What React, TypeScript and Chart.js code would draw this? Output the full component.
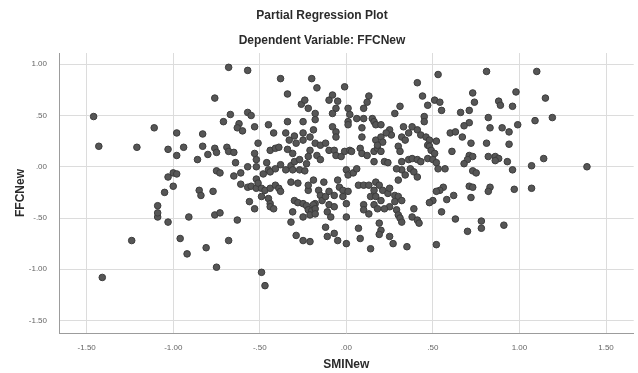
import React, { useEffect, useRef } from 'react';
import { Chart, registerables } from 'chart.js';

Chart.register(...registerables);

const chartTitle = 'Partial Regression Plot';
const chartSubtitle = 'Dependent Variable: FFCNew';
const xTitle = 'SMINew';
const yTitle = 'FFCNew';

const xTicks = [-1.5, -1.0, -0.5, 0.0, 0.5, 1.0, 1.5];
const yTicks = [-1.5, -1.0, -0.5, 0.0, 0.5, 1.0];

// SMINew (x) values of the observations
const smiNew = [
  -1.46, -1.43, -1.41, -1.24, -1.21, -1.11, -1.09, -1.09, -1.09, -1.05,
  -1.03, -1.03, -1.03, -1.00, -0.98, -1.00, -0.98, -0.98, -0.96, -0.94,
  -0.92, -0.91, -0.86, -0.85, -0.84, -0.83, -0.83, -0.81, -0.80, -0.77,
  -0.76, -0.76, -0.75, -0.76, -0.73, -0.75, -0.73, -0.75, -0.71, -0.69,
  -0.68, -0.65, -0.68, -0.68, -0.67, -0.64, -0.65, -0.61, -0.63, -0.62,
  -0.63, -0.60, -0.61, -0.57, -0.55, -0.57, -0.57, -0.55, -0.52, -0.56,
  -0.53, -0.53, -0.53, -0.52, -0.52, -0.57, -0.52, -0.34, -0.26, -0.24,
  -0.45, -0.34, -0.42, -0.35, -0.30, -0.33, -0.29, -0.25, -0.25, -0.51,
  -0.44, -0.41, -0.39, -0.34, -0.31, -0.46, -0.45, -0.48, -0.44, -0.41,
  -0.38, -0.35, -0.32, -0.30, -0.27, -0.23, -0.31, -0.27, -0.24, -0.51,
  -0.49, -0.47, -0.44, -0.41, -0.39, -0.38, -0.49, -0.45, -0.44, -0.44,
  -0.42, -0.31, -0.32, -0.29, -0.25, -0.49, -0.47, -0.32, -0.28, -0.30,
  -0.28, -0.25, -0.23, -0.22, -0.21, -0.25, -0.38, -0.22, -0.21, -0.25,
  -0.17, -0.20, -0.10, -0.08, -0.05, -0.06, -0.01, 0.13, 0.12, -0.18,
  -0.18, -0.08, 0.01, 0.02, 0.10, 0.06, 0.10, 0.15, 0.16, 0.17,
  0.20, 0.31, 0.28, 0.44, 0.47, 0.41, 0.45, 0.45, -0.19, -0.08,
  -0.06, -0.06, 0.01, 0.01, 0.09, 0.09, 0.17, 0.20, 0.21, 0.25,
  0.26, 0.32, 0.34, 0.36, 0.38, 0.41, 0.43, 0.46, 0.48, 0.47,
  0.30, 0.31, -0.18, -0.15, -0.12, -0.10, -0.21, -0.22, -0.17, -0.15,
  -0.07, -0.06, -0.03, -0.01, 0.02, 0.03, 0.08, 0.09, 0.12, 0.16,
  0.18, 0.20, 0.16, 0.22, 0.24, 0.32, 0.36, 0.38, 0.41, 0.43,
  0.37, 0.39, 0.41, 0.32, 0.34, 0.30, 0.29, 0.00, 0.01, 0.04,
  0.06, -0.19, -0.13, -0.22, -0.16, -0.15, -0.14, -0.12, -0.18, -0.05,
  -0.04, -0.02, 0.01, -0.02, 0.00, 0.07, 0.10, 0.13, 0.17, 0.19,
  0.21, 0.16, 0.14, 0.17, 0.20, 0.24, 0.25, 0.28, 0.30, 0.32,
  0.28, 0.25, 0.29, 0.10, 0.10, 0.13, 0.16, 0.18, 0.22, -0.19,
  -0.20, -0.18, -0.21, -0.18, -0.10, -0.11, -0.09, -0.07, 0.00, 0.30,
  0.31, 0.32, 0.38, 0.41, 0.42, -0.12, -0.11, -0.07, -0.05, 0.00,
  0.07, 0.08, 0.19, 0.20, 0.19, 0.25, 0.27, 0.35, 0.14, 0.39,
  -0.22, -0.10, -0.07, 0.33, 0.18, 0.23, 0.73, 0.74, 0.98, 0.88,
  0.89, 0.96, 1.15, 0.51, 0.54, 0.55, 0.53, 0.66, 0.71, 0.82,
  0.99, 1.09, 1.19, 0.81, 1.10, 0.71, 0.68, 0.83, 0.90, 0.94,
  0.60, 0.63, 0.67, 0.52, 0.72, 0.81, 0.94, 0.48, 0.49, 0.51,
  0.47, 0.50, 0.61, 0.71, 0.73, 0.70, 0.68, 0.82, 0.86, 0.88,
  0.86, 0.93, 1.14, 0.52, 0.53, 0.57, 0.73, 0.75, 0.96, 1.07,
  1.39, 0.71, 0.73, 0.83, 0.82, 0.97, 1.07, 0.56, 0.54, 0.52,
  0.50, 0.48, 0.58, 0.62, 0.72, 0.55, 0.63, 0.78, 0.78, 0.70,
  0.91, 0.52,
];

// FFCNew (y) values of the same observations
const ffcNew = [
  0.49, 0.20, -1.08, -0.72, 0.19, 0.38, -0.49, -0.45, -0.38, -0.25,
  -0.54, 0.17, -0.10, -0.06, -0.07, -0.19, 0.33, 0.11, -0.70, 0.19,
  -0.85, -0.49, 0.07, -0.23, -0.28, 0.32, 0.20, -0.79, 0.12, -0.24,
  0.67, 0.18, 0.14, -0.47, -0.45, -0.04, -0.06, -0.98, 0.44, 0.19,
  0.15, 0.14, -0.72, 0.97, 0.51, 0.04, -0.09, -0.06, -0.52, 0.42,
  0.38, 0.35, -0.17, 0.53, 0.50, 0.94, -0.20, -0.19, -0.21, -0.34,
  -0.41, 0.39, 0.13, 0.07, 0.00, 0.00, -0.12, 0.71, 0.61, 0.65,
  0.41, 0.44, 0.33, 0.33, 0.30, 0.26, 0.23, 0.33, 0.26, 0.23,
  0.16, 0.18, 0.19, 0.17, 0.13, 0.04, -0.03, -0.07, -0.05, -0.02,
  0.02, -0.03, 0.01, 0.05, 0.07, 0.03, -0.03, -0.03, -0.04, -0.16,
  -0.21, -0.23, -0.21, -0.18, -0.21, -0.24, -0.29, -0.31, -0.36, -0.39,
  -0.41, -0.44, -0.54, -0.67, -0.72, -1.03, -1.16, -0.15, -0.16, -0.33,
  -0.35, -0.36, -0.38, -0.42, -0.73, -0.49, 0.86, 0.57, 0.29, 0.44,
  0.77, 0.86, 0.65, 0.70, 0.64, 0.57, 0.78, 0.69, 0.63, 0.52,
  0.46, 0.52, 0.57, 0.51, 0.57, 0.47, 0.47, 0.47, 0.44, 0.41,
  0.41, 0.59, 0.52, 0.69, 0.60, 0.82, 0.49, 0.44, 0.36, 0.39,
  0.34, 0.29, 0.44, 0.41, 0.38, 0.29, 0.26, 0.29, 0.24, 0.36,
  0.31, 0.29, 0.26, 0.33, 0.39, 0.36, 0.31, 0.29, 0.26, 0.21,
  0.20, 0.15, 0.23, 0.21, 0.23, 0.16, 0.16, 0.10, 0.11, 0.07,
  0.16, 0.11, 0.10, 0.15, 0.16, 0.15, 0.18, 0.13, 0.11, 0.15,
  0.18, 0.15, 0.05, 0.05, 0.04, 0.05, 0.07, 0.08, 0.07, 0.05,
  -0.02, -0.05, -0.10, -0.03, -0.08, -0.13, -0.02, -0.03, -0.08, -0.06,
  -0.02, -0.13, -0.15, -0.23, -0.23, -0.28, -0.33, -0.29, -0.36, -0.13,
  -0.20, -0.23, -0.24, -0.29, -0.36, -0.18, -0.18, -0.18, -0.15, -0.18,
  -0.23, -0.23, -0.29, -0.29, -0.33, -0.26, -0.21, -0.28, -0.29, -0.33,
  -0.34, -0.39, -0.42, -0.37, -0.42, -0.46, -0.37, -0.41, -0.41, -0.37,
  -0.43, -0.41, -0.47, -0.46, -0.37, -0.44, -0.49, -0.39, -0.49, -0.47,
  -0.50, -0.54, -0.49, -0.52, -0.55, -0.59, -0.68, -0.65, -0.72, -0.75,
  -0.60, -0.70, -0.55, -0.62, -0.66, -0.68, -0.75, -0.78, -0.80, -0.41,
  -0.18, -0.24, -0.28, 0.39, 0.21, 0.33, 0.72, 0.63, 0.73, 0.64,
  0.60, 0.59, 0.67, 0.65, 0.63, 0.55, 0.90, 0.53, 0.55, 0.48,
  0.41, 0.45, 0.48, 0.93, 0.93, 0.43, 0.40, 0.38, 0.38, 0.34,
  0.33, 0.34, 0.29, 0.25, 0.23, 0.23, 0.22, 0.20, 0.16, 0.13,
  0.08, 0.07, 0.15, 0.11, 0.10, 0.07, 0.03, 0.10, 0.10, 0.08,
  0.06, 0.05, 0.08, 0.04, -0.02, -0.02, -0.04, -0.06, -0.03, 0.01,
  0.00, -0.19, -0.20, -0.20, -0.24, -0.22, -0.21, -0.20, -0.23, -0.24,
  -0.33, -0.35, -0.32, -0.28, -0.30, -0.44, -0.51, -0.53, -0.60, -0.63,
  -0.57, -0.76,
];

const FONT = '"Liberation Sans", Arial, sans-serif';

function fmt(v: number): string {
  const s = Math.abs(v).toFixed(2);
  const t = s.startsWith('0') ? s.slice(1) : s;
  return (v < 0 ? '-' : '') + t;
}

export default function App() {
  const ref = useRef<HTMLCanvasElement>(null);

  useEffect(() => {
    document.body.style.margin = '0';
    const canvas = ref.current;
    if (!canvas) return;

    const titles = {
      id: 'titles',
      afterDraw(chart: any) {
        const ctx = chart.ctx as CanvasRenderingContext2D;
        const area = chart.chartArea;
        const xScale = chart.scales.x;
        ctx.save();
        ctx.fillStyle = '#2b2b2b';
        ctx.textAlign = 'center';
        ctx.textBaseline = 'middle';
        ctx.font = `bold 12px ${FONT}`;
        ctx.fillText(chartTitle, 322, 16);
        ctx.fillText(chartSubtitle, 322, 41);
        ctx.fillText(xTitle, xScale.getPixelForValue(0), 365);
        ctx.translate(21, (area.top + area.bottom) / 2);
        ctx.rotate(-Math.PI / 2);
        ctx.fillText(yTitle, 0, 0);
        ctx.restore();
      },
    };

    const chart = new Chart(canvas, {
      type: 'scatter',
      data: {
        datasets: [
          {
            data: smiNew.map((x, i) => ({ x, y: ffcNew[i] })),
            pointRadius: 3.3,
            pointHoverRadius: 3.3,
            backgroundColor: '#565656',
            borderColor: '#3c3c3c',
            borderWidth: 1,
          },
        ],
      },
      options: {
        responsive: false,
        animation: false,
        devicePixelRatio: 1,
        layout: { padding: { top: 53, right: 2, left: 0, bottom: 0 } },
        plugins: {
          legend: { display: false },
          tooltip: { enabled: false },
          title: { display: false },
        },
        scales: {
          x: {
            type: 'linear',
            min: -1.66,
            max: 1.66,
            afterBuildTicks: (s: any) => {
              s.ticks = xTicks.map((v) => ({ value: v }));
            },
            afterFit: (s: any) => {
              s.height = 40;
            },
            grid: { color: '#dcdcdc', drawTicks: false },
            border: { color: '#9c9c9c' },
            ticks: {
              padding: 10,
              color: '#666',
              font: { size: 8, family: FONT },
              maxRotation: 0,
              autoSkip: false,
              callback: (v: any) => fmt(Number(v)),
            },
          },
          y: {
            type: 'linear',
            min: -1.622,
            max: 1.11,
            afterBuildTicks: (s: any) => {
              s.ticks = yTicks.map((v) => ({ value: v }));
            },
            afterFit: (s: any) => {
              s.width = 59;
            },
            grid: { color: '#dcdcdc', drawTicks: false },
            border: { color: '#9c9c9c' },
            ticks: {
              padding: 12,
              color: '#666',
              font: { size: 8, family: FONT },
              autoSkip: false,
              callback: (v: any) => fmt(Number(v)),
            },
          },
        },
      },
      plugins: [titles],
    });

    return () => chart.destroy();
  }, []);

  return (
    <div style={{ width: 638, height: 373 }}>
      <canvas ref={ref} width={638} height={373} style={{ display: 'block' }} />
    </div>
  );
}
